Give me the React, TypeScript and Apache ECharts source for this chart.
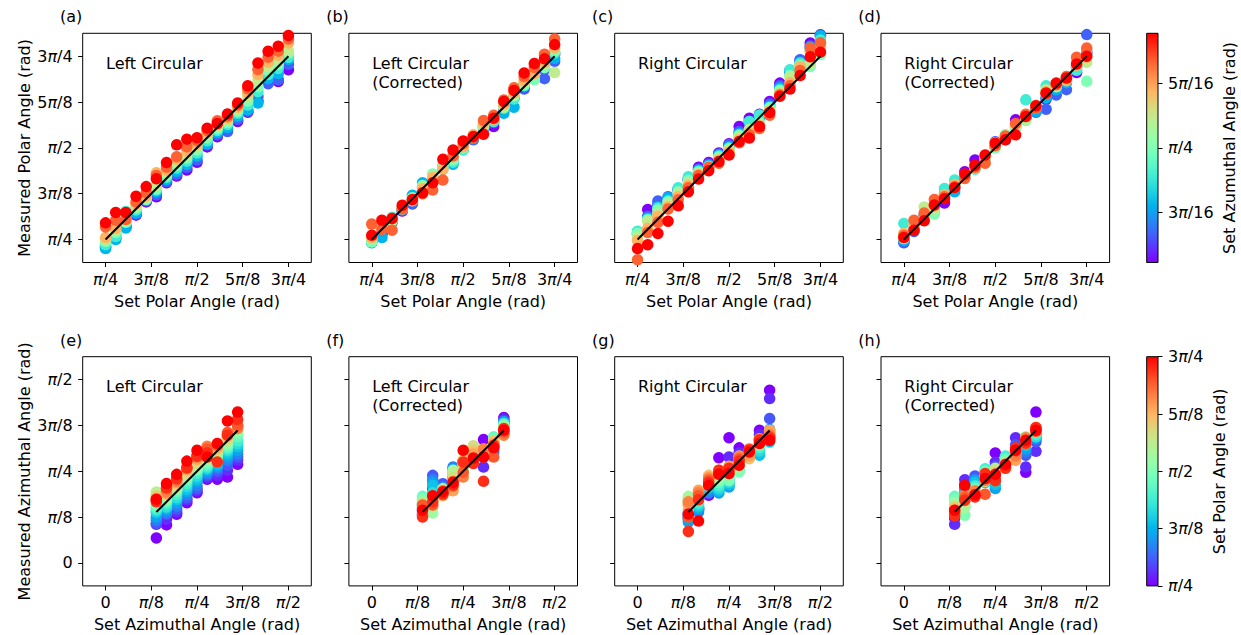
import React, { useEffect, useRef } from "react";
import * as echarts from "echarts";

// ---------- data (degrees) ----------
const topSetPolar = [45, 50, 55, 60, 65, 70, 75, 80, 85, 90, 95, 100, 105, 110, 115, 120, 125, 130, 135];
const topSetAzimuth = [25, 30, 35, 40, 45, 50, 55, 60, 65];
const bottomSetAzimuth = [25, 30, 35, 40, 45, 50, 55, 60, 65];
const bottomSetPolar = [45, 50, 55, 60, 65, 70, 75, 80, 85, 90, 95, 100, 105, 110, 115, 120, 125, 130, 135];

// rows: set polar; columns: set azimuth
const measPolarLeft = [
  [41.5, 41.2, 40.6, 42.5, 44.0, 45.0, 46.0, 51.2, 53.2],
  [45.8, 47.5, 45.0, 46.5, 48.5, 49.5, 50.5, 54.5, 58.3],
  [51.0, 52.0, 50.7, 58.8, 53.5, 54.5, 55.5, 54.8, 58.3],
  [57.0, 57.5, 58.0, 59.5, 60.5, 61.5, 62.5, 63.5, 66.3],
  [63.5, 64.0, 64.5, 65.0, 64.7, 65.5, 66.5, 68.0, 71.0],
  [66.0, 67.0, 68.5, 69.3, 70.0, 71.5, 77.8, 76.5, 74.9],
  [72.9, 73.5, 74.5, 75.5, 76.5, 78.0, 79.0, 80.5, 82.8],
  [76.2, 77.0, 78.5, 80.0, 81.5, 83.0, 84.5, 85.7, 91.5],
  [79.2, 80.5, 82.0, 83.5, 85.0, 86.5, 88.5, 90.5, 94.3],
  [82.9, 84.0, 86.0, 87.5, 89.0, 90.5, 92.0, 93.5, 95.0],
  [90.5, 91.5, 92.0, 93.5, 95.0, 96.5, 97.5, 98.5, 99.7],
  [95.5, 96.5, 97.5, 98.5, 99.5, 100.5, 101.5, 103.3, 102.0],
  [99.0, 98.0, 100.0, 101.5, 102.5, 103.5, 104.5, 105.5, 106.6],
  [103.0, 104.0, 105.5, 107.0, 108.0, 109.0, 110.0, 111.0, 112.0],
  [107.5, 108.0, 108.7, 111.0, 113.0, 115.0, 117.0, 119.0, 120.5],
  [113.0, 115.3, 112.0, 117.5, 120.0, 123.0, 126.0, 128.5, 131.7],
  [122.2, 121.5, 124.0, 126.0, 128.0, 130.0, 132.0, 134.5, 137.4],
  [122.6, 123.5, 126.5, 129.0, 131.0, 133.0, 135.5, 137.5, 139.9],
  [128.4, 131.0, 133.5, 134.5, 136.6, 137.5, 141.5, 143.5, 145.2],
];
const measPolarLeftCorr = [
  [44.5, 44.0, 43.4, 44.5, 43.8, 45.5, 46.0, 52.6, 47.1],
  [48.0, 47.5, 46.0, 52.0, 52.5, 50.5, 51.0, 50.0, 54.5],
  [53.5, 54.0, 54.5, 56.0, 55.0, 54.0, 55.5, 49.6, 55.3],
  [59.0, 60.0, 59.5, 60.5, 60.0, 61.0, 60.5, 60.0, 61.9],
  [63.5, 62.5, 66.8, 64.0, 65.5, 65.0, 64.0, 64.5, 64.7],
  [68.5, 69.0, 72.9, 71.0, 71.5, 70.5, 70.0, 67.5, 68.0],
  [74.0, 73.5, 74.5, 75.0, 77.2, 76.0, 75.5, 69.3, 72.9],
  [80.0, 81.0, 80.5, 79.5, 81.0, 80.0, 79.5, 74.2, 84.4],
  [84.5, 85.0, 82.0, 83.0, 84.0, 85.5, 86.5, 86.0, 89.0],
  [90.0, 89.5, 90.5, 89.0, 90.0, 91.0, 90.5, 92.0, 93.4],
  [95.0, 94.0, 94.5, 96.0, 95.5, 96.0, 96.5, 95.0, 95.6],
  [100.5, 99.5, 101.0, 100.0, 101.5, 100.5, 102.0, 103.5, 96.7],
  [100.5, 102.5, 104.0, 103.0, 104.5, 105.0, 104.0, 106.0, 104.6],
  [108.5, 110.0, 107.0, 109.5, 111.0, 110.0, 111.5, 113.5, 112.8],
  [115.0, 114.5, 110.0, 114.0, 115.5, 116.0, 117.0, 119.5, 118.2],
  [120.0, 118.9, 121.5, 120.5, 121.0, 122.0, 123.0, 125.0, 126.8],
  [124.5, 125.5, 126.0, 125.0, 123.5, 127.0, 126.5, 129.5, 131.4],
  [128.5, 124.0, 129.0, 130.0, 129.5, 131.0, 132.0, 136.0, 133.7],
  [136.0, 132.5, 134.0, 136.6, 137.5, 127.0, 139.0, 143.5, 140.7],
];
const measPolarRight = [
  [47.5, 48.0, 48.5, 49.1, 48.0, 46.0, 44.5, 35.1, 40.6],
  [59.8, 56.5, 55.5, 55.0, 54.5, 54.0, 50.5, 48.5, 42.5],
  [62.0, 63.9, 61.0, 60.5, 59.5, 57.5, 56.5, 53.5, 48.0],
  [65.0, 66.0, 65.5, 64.0, 63.5, 62.5, 61.0, 60.0, 54.0],
  [69.0, 70.0, 69.5, 70.5, 68.5, 67.5, 66.0, 64.5, 61.6],
  [74.5, 74.0, 75.0, 75.9, 74.0, 72.5, 71.5, 70.5, 68.5],
  [80.5, 79.5, 79.0, 78.5, 78.0, 77.5, 77.0, 76.5, 74.7],
  [82.8, 82.0, 81.5, 81.0, 80.5, 80.0, 79.5, 80.5, 78.8],
  [87.5, 87.0, 86.5, 86.0, 85.5, 84.5, 84.0, 82.5, 83.3],
  [92.0, 91.5, 90.5, 90.0, 89.5, 89.0, 88.0, 87.0, 86.5],
  [100.5, 98.0, 97.0, 96.5, 96.0, 95.0, 94.0, 92.5, 93.1],
  [104.6, 103.0, 102.5, 103.0, 98.5, 99.0, 97.5, 96.5, 94.8],
  [106.5, 105.5, 104.5, 106.2, 102.5, 101.5, 101.0, 99.5, 100.5],
  [112.8, 111.5, 110.5, 110.0, 109.5, 108.5, 108.0, 106.0, 107.4],
  [121.8, 120.5, 119.5, 118.6, 118.0, 117.0, 116.5, 116.0, 115.3],
  [127.5, 128.0, 127.0, 128.4, 125.5, 124.8, 122.0, 120.5, 118.9],
  [133.0, 133.3, 132.0, 131.5, 130.5, 129.5, 130.0, 128.0, 125.5],
  [141.5, 140.0, 139.5, 138.0, 130.0, 131.5, 137.0, 139.0, 134.7],
  [145.5, 145.2, 145.0, 143.0, 135.8, 137.5, 140.0, 141.6, 137.0],
];
const measPolarRightCorr = [
  [44.0, 43.4, 44.5, 52.9, 47.5, 45.5, 48.0, 47.0, 46.0],
  [50.5, 49.0, 51.5, 50.0, 51.0, 52.5, 52.0, 54.5, 49.6],
  [55.0, 56.5, 57.0, 55.5, 54.5, 61.0, 56.0, 58.0, 54.2],
  [60.0, 61.0, 60.5, 58.5, 57.5, 60.0, 61.5, 64.7, 62.0],
  [63.0, 66.0, 67.5, 70.1, 66.5, 65.5, 67.0, 66.0, 65.0],
  [71.0, 70.0, 68.5, 74.2, 71.5, 70.5, 72.0, 71.0, 70.5],
  [78.3, 76.0, 75.5, 77.0, 76.5, 76.0, 75.5, 75.0, 77.2],
  [84.1, 80.5, 80.0, 79.5, 80.5, 81.0, 80.0, 80.5, 81.5],
  [85.0, 84.5, 85.5, 86.0, 85.5, 84.0, 86.0, 82.5, 86.5],
  [90.5, 93.0, 91.0, 90.5, 90.0, 91.5, 92.5, 91.0, 92.3],
  [94.5, 95.0, 94.0, 95.5, 96.5, 96.0, 95.5, 95.9, 94.0],
  [103.8, 101.0, 100.0, 101.5, 100.0, 100.5, 101.5, 102.0, 96.4],
  [105.0, 104.5, 106.0, 113.6, 103.5, 104.0, 105.5, 106.5, 105.4],
  [110.0, 107.5, 108.0, 109.5, 110.5, 111.0, 110.5, 109.5, 110.7],
  [114.0, 109.0, 114.5, 120.5, 117.0, 118.5, 117.5, 116.5, 117.0],
  [119.0, 116.0, 118.5, 120.5, 121.0, 120.0, 121.5, 121.0, 121.8],
  [124.0, 118.6, 122.0, 123.5, 125.0, 124.5, 123.0, 125.0, 124.3],
  [127.0, 129.5, 130.0, 128.1, 131.0, 132.5, 130.5, 134.5, 131.2],
  [137.0, 145.6, 136.0, 138.0, 122.7, 132.0, 134.5, 139.0, 135.0],
];

// rows: set azimuth; columns: set polar
const measAzLeft = [
  [12.3, 19.0, 19.5, 21.0, 22.5, 24.7, 25.5, 26.5, 27.5, 28.5, 33.5, 34.9, 33.0, 32.5, 31.5, 30.5, 31.0, 30.0, 31.3],
  [18.7, 21.5, 23.9, 24.5, 26.0, 27.0, 27.5, 29.0, 30.0, 31.0, 32.0, 33.0, 34.0, 34.5, 34.0, 35.0, 36.5, 37.0, 39.0],
  [23.9, 25.0, 26.5, 28.0, 29.6, 31.0, 32.0, 33.5, 35.0, 36.0, 36.5, 37.0, 38.0, 39.0, 39.5, 40.0, 41.0, 41.5, 43.5],
  [29.6, 31.0, 32.0, 33.5, 34.9, 36.0, 37.5, 39.0, 40.5, 41.5, 42.5, 43.0, 44.0, 45.0, 46.0, 46.5, 47.0, 46.6, 50.0],
  [34.5, 35.5, 36.5, 38.0, 39.8, 41.0, 42.5, 44.0, 45.5, 46.0, 47.0, 48.0, 49.0, 50.5, 51.0, 52.0, 53.0, 52.4, 55.3],
  [41.1, 42.0, 43.0, 43.9, 45.0, 46.0, 46.5, 47.5, 48.5, 49.5, 50.5, 51.5, 53.0, 55.0, 56.5, 57.3, 56.0, 54.0, 52.0],
  [41.1, 43.0, 45.0, 46.5, 47.5, 48.5, 49.5, 50.5, 51.5, 52.5, 53.5, 54.5, 55.5, 56.0, 57.0, 57.5, 58.0, 49.6, 58.6],
  [42.2, 45.5, 48.0, 50.4, 52.0, 53.5, 55.0, 56.0, 57.0, 58.0, 59.0, 60.0, 61.0, 62.0, 62.5, 63.0, 64.0, 62.7, 69.7],
  [48.4, 50.5, 52.0, 53.5, 55.3, 57.0, 58.5, 60.0, 61.9, 63.5, 65.0, 66.5, 70.0, 68.0, 67.0, 66.0, 67.5, 70.5, 74.1],
];
const measAzLeftCorr = [
  [24.0, 23.5, 25.0, 26.0, 27.0, 28.5, 29.5, 31.0, 32.7, 31.5, 30.0, 27.5, 29.5, 28.0, 27.0, 24.0, 28.5, 22.6, 25.9],
  [37.3, 36.0, 43.0, 41.0, 39.5, 38.0, 34.5, 33.0, 32.0, 31.5, 24.5, 27.5, 29.0, 30.5, 31.5, 32.5, 28.5, 30.0, 33.0],
  [35.5, 37.0, 38.9, 37.5, 36.5, 35.0, 36.0, 34.5, 33.5, 34.5, 35.5, 36.5, 35.0, 33.0, 34.0, 35.5, 33.5, 34.0, 35.0],
  [42.0, 44.0, 45.5, 47.1, 46.0, 45.0, 44.5, 44.0, 43.5, 43.9, 45.5, 44.5, 42.0, 38.5, 35.4, 37.5, 40.0, 38.1, 39.5],
  [46.0, 47.5, 48.5, 50.0, 49.5, 48.0, 47.0, 48.5, 46.5, 45.5, 44.0, 46.0, 48.0, 50.5, 49.0, 42.2, 44.5, 49.6, 55.3],
  [52.0, 54.0, 57.0, 55.5, 54.5, 53.0, 52.0, 51.5, 50.5, 52.5, 54.0, 55.5, 57.5, 55.0, 53.5, 51.0, 50.0, 48.8, 51.5],
  [60.6, 47.1, 55.0, 54.5, 53.5, 55.5, 56.0, 54.5, 53.0, 52.5, 55.5, 54.5, 53.0, 52.5, 54.5, 56.0, 52.0, 40.1, 52.0],
  [58.0, 57.5, 55.0, 54.0, 56.5, 57.0, 58.5, 60.0, 61.9, 60.5, 59.5, 58.0, 59.0, 60.0, 58.5, 57.0, 52.0, 57.8, 56.5],
  [71.4, 70.5, 69.0, 68.4, 69.5, 68.5, 67.5, 68.4, 67.0, 66.5, 67.5, 66.0, 65.5, 64.5, 63.5, 62.7, 64.0, 66.0, 65.1],
];
const measAzRight = [
  [24.5, 23.5, 22.0, 21.5, 20.1, 22.5, 24.0, 26.0, 29.0, 31.5, 32.7, 31.0, 30.5, 29.5, 28.5, 30.0, 22.6, 15.5, 24.0],
  [27.0, 26.5, 25.9, 25.0, 26.5, 27.5, 28.5, 29.5, 30.5, 31.0, 32.0, 33.5, 34.5, 35.0, 35.7, 34.5, 33.0, 31.0, 20.6],
  [33.2, 34.0, 35.0, 34.5, 36.0, 37.0, 37.5, 38.5, 39.5, 40.0, 41.0, 41.5, 42.5, 43.0, 42.0, 41.5, 40.5, 39.5, 38.1],
  [51.7, 41.0, 37.5, 36.0, 34.4, 35.5, 36.5, 38.0, 39.5, 40.5, 41.5, 43.0, 44.0, 45.0, 45.5, 44.5, 44.0, 45.5, 43.5],
  [61.5, 52.0, 46.5, 40.5, 37.3, 38.5, 39.5, 41.0, 42.5, 40.5, 44.0, 45.5, 47.0, 46.5, 47.5, 46.0, 45.5, 46.5, 43.9],
  [56.5, 54.0, 52.5, 51.0, 49.5, 48.5, 47.5, 46.0, 45.5, 44.7, 47.0, 48.5, 50.0, 51.0, 52.5, 52.0, 51.0, 50.0, 48.0],
  [55.5, 54.5, 53.0, 52.0, 51.5, 53.5, 54.0, 55.0, 54.0, 53.5, 52.5, 52.0, 53.5, 51.2, 52.5, 55.0, 56.0, 55.5, 54.5],
  [65.1, 63.0, 60.5, 56.5, 54.5, 52.9, 55.0, 56.5, 57.5, 58.0, 59.0, 60.0, 60.5, 59.5, 61.0, 60.5, 59.5, 60.5, 58.6],
  [84.8, 80.7, 70.9, 65.5, 61.5, 59.4, 61.0, 62.5, 63.0, 64.0, 65.0, 64.5, 63.5, 64.3, 65.0, 63.0, 62.0, 61.5, 60.2],
];
const measAzRightCorr = [
  [22.0, 19.0, 23.5, 24.0, 27.0, 28.5, 30.0, 31.5, 32.7, 31.0, 29.5, 28.0, 27.5, 27.0, 26.0, 25.0, 24.5, 23.0, 25.9],
  [38.5, 40.9, 37.5, 36.5, 35.0, 33.5, 32.5, 31.5, 28.0, 23.4, 27.0, 29.0, 30.5, 31.5, 32.0, 33.5, 32.0, 30.8, 38.1],
  [40.0, 39.0, 42.7, 41.0, 40.5, 39.5, 38.0, 37.5, 36.5, 36.0, 35.5, 35.0, 34.5, 34.0, 33.5, 35.5, 33.0, 32.4, 33.5],
  [44.5, 43.0, 41.5, 42.5, 40.0, 39.5, 43.0, 46.3, 45.0, 44.5, 42.5, 41.5, 40.0, 42.5, 41.0, 40.5, 33.7, 43.9, 41.5],
  [54.0, 49.5, 47.5, 42.0, 36.5, 38.5, 40.0, 41.5, 43.0, 44.0, 45.0, 46.5, 45.5, 44.0, 42.5, 41.5, 42.0, 40.3, 43.5],
  [50.0, 51.5, 49.5, 48.5, 49.0, 50.5, 51.5, 52.5, 51.0, 50.0, 49.5, 48.5, 49.0, 47.5, 46.5, 48.5, 47.0, 46.5, 48.3],
  [52.5, 61.5, 58.0, 56.5, 55.5, 54.5, 54.0, 53.0, 52.0, 53.5, 54.5, 55.5, 56.0, 51.5, 50.4, 52.5, 55.0, 56.5, 55.3],
  [44.5, 47.1, 52.9, 54.5, 56.0, 57.5, 58.5, 59.0, 60.5, 61.5, 62.0, 61.0, 60.5, 59.5, 60.5, 61.5, 58.5, 59.0, 60.2],
  [74.1, 54.8, 59.5, 61.0, 61.5, 62.5, 62.0, 63.0, 64.0, 64.5, 65.5, 66.0, 65.5, 66.5, 66.0, 65.0, 64.5, 66.5, 65.1],
];

const panelLetters = ["(a)", "(b)", "(c)", "(d)", "(e)", "(f)", "(g)", "(h)"];
const panelTitles = [
  "Left Circular", "Left Circular\n(Corrected)", "Right Circular", "Right Circular\n(Corrected)",
  "Left Circular", "Left Circular\n(Corrected)", "Right Circular", "Right Circular\n(Corrected)",
];
const polarTicks = [45, 67.5, 90, 112.5, 135];
const polarTickLabels = ["π/4", "3π/8", "π/2", "5π/8", "3π/4"];
const azTicks = [0, 22.5, 45, 67.5, 90];
const azTickLabels = ["0", "π/8", "π/4", "3π/8", "π/2"];
const azCbarTicks = [33.75, 45, 56.25];
const azCbarLabels = ["3π/16", "π/4", "5π/16"];
const polarCbarTicks = [45, 67.5, 90, 112.5, 135];
const polarCbarLabels = ["π/4", "3π/8", "π/2", "5π/8", "3π/4"];

// ---------- style / layout ----------
const FONT = "DejaVu Sans";
const FS = 16;
const colLeft = [82.7, 348.9, 614.7, 881];
const gridW = 228.6;
const rowTop = [33.3, 356.7];
const gridH = 229.2;
const cbarLeft = 1146.7;
const cbarW = 11.3;

function rainbow(t: number): string {
  const c = (v: number) => Math.round(Math.max(0, Math.min(1, v)) * 255);
  const r = Math.abs(2 * t - 0.5);
  const g = Math.sin(Math.PI * t);
  const b = Math.cos((Math.PI * t) / 2);
  return `rgb(${c(r)},${c(g)},${c(b)})`;
}
const NSTOP = 24;
const rainbowColors = Array.from({ length: NSTOP + 1 }, (_, i) => rainbow(i / NSTOP));
const gradient = {
  type: "linear", x: 0, y: 1, x2: 0, y2: 0,
  colorStops: rainbowColors.map((color, i) => ({ offset: i / NSTOP, color })),
};

const labelFmt = (ticks: number[], labels: string[]) => (v: number) => {
  const i = ticks.findIndex((t) => Math.abs(t - v) < 1e-6);
  return i < 0 ? "" : labels[i].replace(/π/g, "{i|π}");
};
const rich = { i: { fontStyle: "italic", fontFamily: FONT, fontSize: FS, color: "#000" } };
const textStyle = { color: "#000", fontFamily: FONT, fontSize: FS };

function buildTop(meas: number[][]) {
  const out: number[][] = [];
  topSetAzimuth.forEach((az, j) => {
    topSetPolar.forEach((p, i) => out.push([p, meas[i][j], az]));
  });
  return out;
}
function buildBottom(meas: number[][]) {
  const out: number[][] = [];
  bottomSetPolar.forEach((p, j) => {
    bottomSetAzimuth.forEach((az, i) => out.push([az, meas[i][j], p]));
  });
  return out;
}

export default function App() {
  const ref = useRef<HTMLDivElement>(null);
  useEffect(() => {
    if (!ref.current) return;
    const chart = echarts.init(ref.current, undefined, { renderer: "svg" });
    const grids: any[] = [];
    const xAxes: any[] = [];
    const yAxes: any[] = [];
    const series: any[] = [];
    const graphics: any[] = [];
    const panelData = [
      buildTop(measPolarLeft), buildTop(measPolarLeftCorr), buildTop(measPolarRight), buildTop(measPolarRightCorr),
      buildBottom(measAzLeft), buildBottom(measAzLeftCorr), buildBottom(measAzRight), buildBottom(measAzRightCorr),
    ];
    for (let r = 0; r < 2; r++) {
      for (let c = 0; c < 4; c++) {
        const idx = r * 4 + c;
        grids.push({
          left: colLeft[c], top: rowTop[r], width: gridW, height: gridH,
          show: true, borderColor: "#000", borderWidth: 1, backgroundColor: "transparent",
        });
        const ticks = r === 0 ? polarTicks : azTicks;
        const labels = r === 0 ? polarTickLabels : azTickLabels;
        const min = r === 0 ? 33.75 : -11.25;
        const max = r === 0 ? 146.25 : 101.25;
        xAxes.push({
          gridIndex: idx, type: "value", min, max,
          axisLine: { show: false, onZero: false },
          splitLine: { show: false },
          axisTick: { show: true, customValues: ticks, length: 4.5, lineStyle: { color: "#000", width: 1 } },
          axisLabel: { show: true, customValues: ticks, formatter: labelFmt(ticks, labels), margin: 9, ...textStyle, rich },
          name: r === 0 ? "Set Polar Angle (rad)" : "Set Azimuthal Angle (rad)",
          nameLocation: "middle", nameGap: 31, nameTextStyle: textStyle,
        });
        yAxes.push({
          gridIndex: idx, type: "value", min, max,
          axisLine: { show: false, onZero: false },
          splitLine: { show: false },
          axisTick: { show: true, customValues: ticks, length: 4.5, lineStyle: { color: "#000", width: 1 } },
          axisLabel: { show: c === 0, customValues: ticks, formatter: labelFmt(ticks, labels), margin: 10, ...textStyle, rich },
          name: c === 0 ? (r === 0 ? "Measured Polar Angle (rad)" : "Measured Azimuthal Angle (rad)") : "",
          nameLocation: "middle", nameRotate: 90, nameGap: 50, nameTextStyle: textStyle,
        });
        series.push({
          type: "scatter", xAxisIndex: idx, yAxisIndex: idx,
          data: panelData[idx], symbolSize: 11.5, itemStyle: { opacity: 1 }, z: 2,
        });
        graphics.push({
          type: "text", x: colLeft[c] - 22.7, y: rowTop[r] - 16.6,
          style: { text: panelLetters[idx], fill: "#000", fontFamily: FONT, fontSize: FS, align: "left", verticalAlign: "middle" },
        });
        graphics.push({
          type: "text", x: colLeft[c] + 23.3, y: rowTop[r] + 21,
          style: { text: panelTitles[idx], fill: "#000", fontFamily: FONT, fontSize: FS, lineHeight: 18.5, align: "left", verticalAlign: "top" },
        });
      }
    }
    // fit lines
    for (let idx = 0; idx < 8; idx++) {
      const set = idx < 4 ? topSetPolar : bottomSetAzimuth;
      const lo = set[0];
      const hi = set[set.length - 1];
      series.push({
        type: "line", xAxisIndex: idx, yAxisIndex: idx,
        data: [[lo, lo], [hi, hi]], symbol: "none",
        lineStyle: { color: "#000", width: 2 }, z: 5, silent: true,
      });
    }
    // colorbars
    const cbars = [
      { min: 25, max: 65, ticks: azCbarTicks, labels: azCbarLabels, name: "Set Azumuthal Angle (rad)", gap: 63 },
      { min: 45, max: 135, ticks: polarCbarTicks, labels: polarCbarLabels, name: "Set Polar Angle (rad)", gap: 53 },
    ];
    cbars.forEach((cb, r) => {
      const gi = 8 + r;
      grids.push({
        left: cbarLeft, top: rowTop[r], width: cbarW, height: gridH,
        show: true, borderColor: "#000", borderWidth: 1, backgroundColor: gradient,
      });
      xAxes.push({ gridIndex: gi, type: "value", min: 0, max: 1, show: false });
      yAxes.push({
        gridIndex: gi, type: "value", position: "right", min: cb.min, max: cb.max,
        axisLine: { show: false, onZero: false }, splitLine: { show: false },
        axisTick: { show: true, customValues: cb.ticks, length: 4.5, lineStyle: { color: "#000", width: 1 } },
        axisLabel: { show: true, customValues: cb.ticks, formatter: labelFmt(cb.ticks, cb.labels), margin: 10, ...textStyle, rich },
        name: cb.name, nameLocation: "middle", nameRotate: 90, nameGap: cb.gap, nameTextStyle: textStyle,
      });
    });

    chart.setOption({
      animation: false,
      backgroundColor: "#fff",
      textStyle: { fontFamily: FONT },
      grid: grids,
      xAxis: xAxes,
      yAxis: yAxes,
      visualMap: [
        { type: "continuous", show: false, min: 25, max: 65, dimension: 2, seriesIndex: [0, 1, 2, 3], inRange: { color: rainbowColors } },
        { type: "continuous", show: false, min: 45, max: 135, dimension: 2, seriesIndex: [4, 5, 6, 7], inRange: { color: rainbowColors } },
      ],
      series,
      graphic: graphics,
    });
    return () => chart.dispose();
  }, []);
  return <div ref={ref} style={{ position: "absolute", left: 0, top: 0, width: 1241, height: 635 }} />;
}
